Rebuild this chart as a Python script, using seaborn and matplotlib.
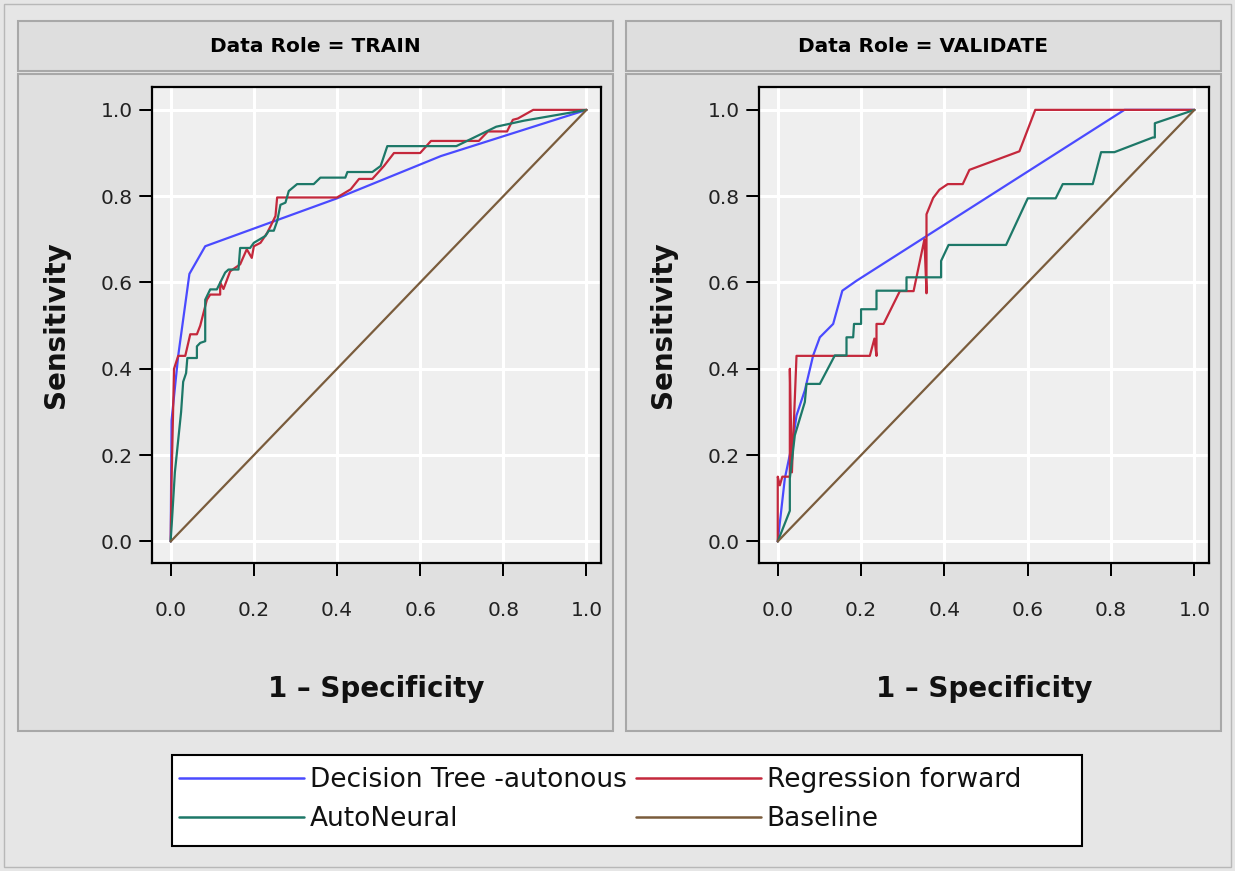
import numpy as np
import pandas as pd
import matplotlib
matplotlib.use("Agg")
import matplotlib.pyplot as plt
from matplotlib.patches import Rectangle
from matplotlib.lines import Line2D
import seaborn as sns

# ---------------- data ----------------
models = ["Decision Tree -autonous", "Regression forward", "AutoNeural", "Baseline"]
panel_titles = ["Data Role = TRAIN", "Data Role = VALIDATE"]
tick_vals = [0.0, 0.2, 0.4, 0.6, 0.8, 1.0]
tick_labels = ["0.0", "0.2", "0.4", "0.6", "0.8", "1.0"]

train_dt_x = [0, 0.002, 0.018, 0.045, 0.083, 0.4, 0.65, 1.0]
train_dt_y = [0, 0.28, 0.43, 0.62, 0.684, 0.795, 0.893, 1.0]

train_reg_x = [0, 0.002, 0.008, 0.018, 0.035, 0.047, 0.063, 0.071, 0.087, 0.095, 0.119, 0.119,
               0.127, 0.143, 0.167, 0.183, 0.195, 0.2, 0.216, 0.232, 0.24, 0.252, 0.256, 0.4,
               0.433, 0.453, 0.485, 0.513, 0.537, 0.6, 0.626, 0.741, 0.763, 0.809, 0.823, 0.835,
               0.872, 1.0]
train_reg_y = [0, 0.14, 0.40, 0.43, 0.43, 0.48, 0.48, 0.50, 0.56, 0.572, 0.572, 0.60,
               0.585, 0.626, 0.642, 0.677, 0.657, 0.684, 0.692, 0.715, 0.73, 0.754, 0.797, 0.797,
               0.816, 0.84, 0.84, 0.87, 0.90, 0.90, 0.928, 0.928, 0.95, 0.95, 0.977, 0.98,
               1.0, 1.0]

train_ann_x = [0, 0.01, 0.025, 0.03, 0.037, 0.04, 0.063, 0.063, 0.071, 0.083, 0.083, 0.095,
               0.111, 0.131, 0.139, 0.163, 0.167, 0.191, 0.2, 0.228, 0.236, 0.248, 0.256, 0.264,
               0.276, 0.284, 0.304, 0.344, 0.36, 0.42, 0.425, 0.485, 0.505, 0.521, 0.687, 0.783,
               0.85, 1.0]
train_ann_y = [0, 0.16, 0.30, 0.37, 0.39, 0.425, 0.425, 0.452, 0.46, 0.464, 0.56, 0.584,
               0.584, 0.623, 0.63, 0.63, 0.68, 0.68, 0.692, 0.708, 0.72, 0.72, 0.742, 0.78,
               0.785, 0.812, 0.828, 0.828, 0.843, 0.843, 0.856, 0.856, 0.87, 0.916, 0.916, 0.961,
               0.975, 1.0]

valid_dt_x = [0, 0.017, 0.037, 0.045, 0.065, 0.085, 0.101, 0.133, 0.155, 0.189, 0.832, 1.0]
valid_dt_y = [0, 0.146, 0.238, 0.292, 0.35, 0.431, 0.473, 0.504, 0.581, 0.604, 1.0, 1.0]

valid_reg_x = [0, 0, 0.005, 0.011, 0.029, 0.029, 0.034, 0.045, 0.221, 0.232, 0.237, 0.237,
               0.254, 0.293, 0.326, 0.352, 0.357, 0.357, 0.373, 0.388, 0.408, 0.444, 0.46,
               0.58, 0.618, 1.0]
valid_reg_y = [0, 0.15, 0.13, 0.15, 0.15, 0.40, 0.16, 0.43, 0.43, 0.47, 0.43, 0.504,
               0.504, 0.58, 0.58, 0.70, 0.575, 0.758, 0.796, 0.815, 0.828, 0.828, 0.861,
               0.904, 1.0, 1.0]

valid_ann_x = [0, 0.029, 0.029, 0.041, 0.065, 0.069, 0.101, 0.137, 0.165, 0.165, 0.181, 0.183,
               0.2, 0.2, 0.237, 0.237, 0.309, 0.309, 0.392, 0.392, 0.41, 0.548, 0.6, 0.667,
               0.684, 0.756, 0.776, 0.808, 0.9, 0.905, 0.905, 1.0]
valid_ann_y = [0, 0.071, 0.146, 0.246, 0.323, 0.365, 0.365, 0.431, 0.431, 0.473, 0.473, 0.504,
               0.504, 0.538, 0.538, 0.581, 0.581, 0.612, 0.612, 0.65, 0.687, 0.687, 0.795, 0.795,
               0.828, 0.828, 0.902, 0.902, 0.936, 0.936, 0.969, 1.0]

baseline_x = [0.0, 1.0]
baseline_y = [0.0, 1.0]

colors = {"Decision Tree -autonous": "#4a4aff",
          "Regression forward": "#c4283c",
          "AutoNeural": "#1d7868",
          "Baseline": "#7a5c3c"}

def build_df(series):
    frames = []
    for name, (xs, ys) in series.items():
        frames.append(pd.DataFrame({"x": xs, "y": ys, "model": name}))
    return pd.concat(frames, ignore_index=True)

df_train = build_df({"Decision Tree -autonous": (train_dt_x, train_dt_y),
                     "Regression forward": (train_reg_x, train_reg_y),
                     "AutoNeural": (train_ann_x, train_ann_y),
                     "Baseline": (baseline_x, baseline_y)})
df_valid = build_df({"Decision Tree -autonous": (valid_dt_x, valid_dt_y),
                     "Regression forward": (valid_reg_x, valid_reg_y),
                     "AutoNeural": (valid_ann_x, valid_ann_y),
                     "Baseline": (baseline_x, baseline_y)})

# ---------------- layout ----------------
sns.set_style("ticks", {"axes.facecolor": "#efefef", "grid.color": "white",
                        "xtick.bottom": True, "ytick.left": True})
plt.rcParams["font.family"] = ["DejaVu Sans"]

W, H = 1235, 871
fig = plt.figure(figsize=(W / 100, H / 100), dpi=100)
fig.patch.set_facecolor("#e6e6e6")

def fx(px):
    return px / W

def fy(py):
    return 1 - py / H

def rect(x0, y0, x1, y1, fc, ec, lw=1.2, z=-10):
    r = Rectangle((fx(x0), fy(y1)), fx(x1) - fx(x0), fy(y0) - fy(y1),
                  transform=fig.transFigure, facecolor=fc, edgecolor=ec,
                  linewidth=lw, zorder=z)
    fig.add_artist(r)
    return r

# outer frame
rect(4, 4, 1231, 867, "#e6e6e6", "#b8b8b8", 1.0, z=-20)

AX_TOP, AX_BOT = 87, 563
TICK_PX = 12
panels = [(18, 613, 152, 601, df_train), (626, 1221, 759, 1209, df_valid)]
for i, (p0, p1, a0, a1, df) in enumerate(panels):
    rect(p0, 74, p1, 731, "#e0e0e0", "#a8a8a8", 1.5)
    rect(p0, 21, p1, 71, "#dedede", "#a8a8a8", 1.5)
    fig.text(fx((p0 + p1) / 2), fy(47), panel_titles[i], ha="center", va="center",
             fontsize=14.5, fontweight="bold", color="black")

    ax = fig.add_axes([fx(a0), fy(AX_BOT), fx(a1) - fx(a0), fy(AX_TOP) - fy(AX_BOT)])
    ax.set_zorder(5)
    ax.set_facecolor("#efefef")
    sns.lineplot(data=df, x="x", y="y", hue="model", hue_order=models, palette=colors,
                 sort=False, estimator=None, linewidth=1.6, legend=False, ax=ax)
    ax.set_xlim(-0.045, 1.035)
    ax.set_ylim(-0.05, 1.053)
    ax.set_xticks(tick_vals)
    ax.set_xticklabels(tick_labels)
    ax.set_yticks(tick_vals)
    ax.set_yticklabels(tick_labels)
    ax.grid(True, color="white", linewidth=2.2)
    for s in ax.spines.values():
        s.set_color("black")
        s.set_linewidth(1.6)
    ax.xaxis.set_tick_params(which="major", direction="out", length=9, width=1.4,
                             color="black", bottom=True,
                             labelsize=14.5, labelcolor="#222222", pad=18)
    ax.yaxis.set_tick_params(which="major", direction="out", length=9, width=1.4,
                             color="black", left=True,
                             labelsize=14.5, labelcolor="#222222", pad=5)
    # explicit tick marks outside the frame (at the tick positions)
    xt = ax.get_xaxis_transform()
    yt = ax.get_yaxis_transform()
    dy = TICK_PX / (AX_BOT - AX_TOP)
    dx = TICK_PX / (a1 - a0)
    for v in tick_vals:
        ax.add_line(Line2D([v, v], [0, -dy], transform=xt, color="black", linewidth=1.4,
                           clip_on=False, zorder=6))
        ax.add_line(Line2D([0, -dx], [v, v], transform=yt, color="black", linewidth=1.4,
                           clip_on=False, zorder=6))
    ax.set_xlabel("1 \u2013 Specificity", fontsize=20, fontweight="bold", labelpad=40,
                  color="#111111")
    ax.set_ylabel("Sensitivity", fontsize=20, fontweight="bold", labelpad=22,
                  color="#111111")

# legend
rect(172, 755, 1082, 846, "white", "black", 1.5, z=1)
h = {m: Line2D([], [], color=colors[m], linewidth=1.8) for m in models}
common = dict(loc="upper left", frameon=False, fontsize=19, handlelength=4.75,
              handletextpad=0.2, labelspacing=0.5, borderpad=0, borderaxespad=0)
leg1 = fig.legend([h[models[0]], h[models[2]]], [models[0], models[2]],
                  bbox_to_anchor=(fx(179), fy(767)), **common)
leg2 = fig.legend([h[models[1]], h[models[3]]], [models[1], models[3]],
                  bbox_to_anchor=(fx(636), fy(767)), **common)
for lg in (leg1, leg2):
    lg.set_zorder(6)
    for t in lg.get_texts():
        t.set_color("#111111")

fig.savefig("out.png", dpi=100, facecolor=fig.get_facecolor())
